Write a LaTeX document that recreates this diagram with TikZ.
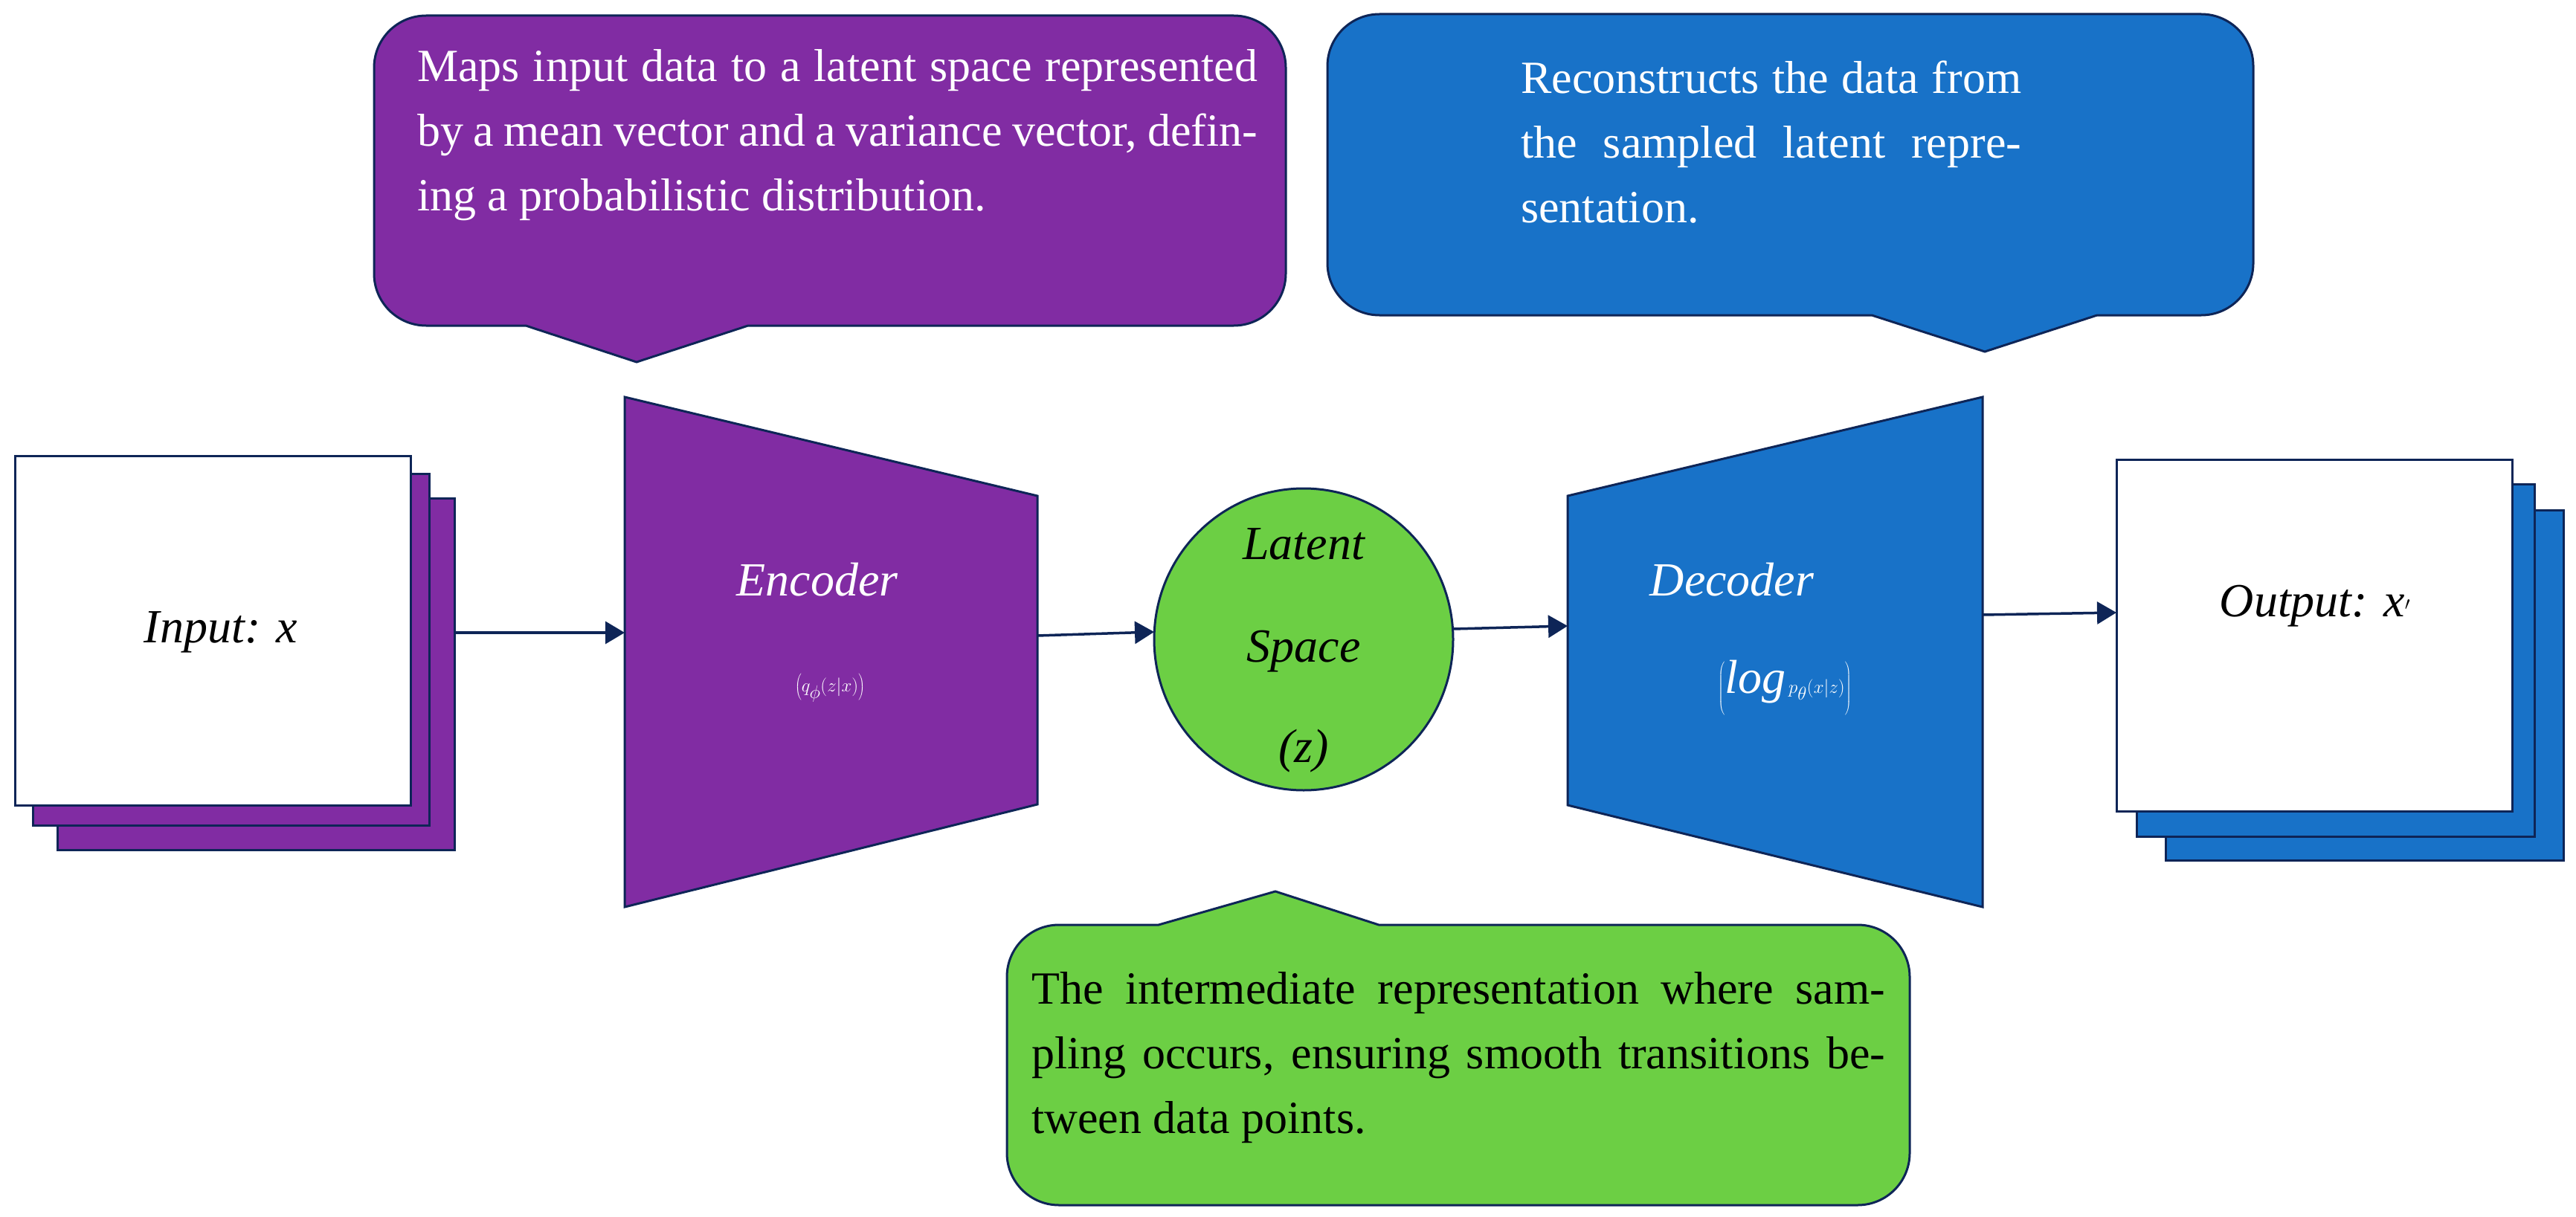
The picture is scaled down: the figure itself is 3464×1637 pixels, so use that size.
\documentclass[tikz,border=0pt]{standalone}
\usepackage{fontspec}
\setmainfont{Liberation Serif}
\usetikzlibrary{arrows.meta}
\definecolor{purp}{HTML}{812CA3}
\definecolor{blu}{HTML}{1872C8}
\definecolor{grn}{HTML}{6CCF44}
\definecolor{nav}{HTML}{0E2557}
\begin{document}
\begin{tikzpicture}[x=1pt,y=-1pt,
  edge/.style={line width=3pt,draw=nav},
  conn/.style={line width=3.5pt,draw=nav,-{Triangle[length=26pt,width=30pt]}},
  bubtxt/.style={anchor=north west,inner sep=0pt,align=justify,font=\fontsize{62}{87}\selectfont},
  lbl/.style={inner sep=0pt,font=\fontsize{64}{70}\selectfont\itshape}]
\useasboundingbox (0,0) rectangle (3464,1637);
% input stack
\filldraw[edge,fill=purp] (77,670) rectangle (611,1143);
\filldraw[edge,fill=purp] (44,637) rectangle (577,1110);
\filldraw[edge,fill=white] (20,613) rectangle (552,1083);
\node[lbl] (in) at (297,850) {Input: x};
\coordinate (inR) at (611,851);
% encoder
\filldraw[edge,fill=purp] (840,534) -- (1395,667) -- (1395,1082) -- (840,1220) -- cycle;
\coordinate (encL) at (840,851);
\coordinate (encR) at (1395,855);
\node[lbl,text=white] (enc) at (1099,780) {Encoder};
\node[lbl,text=white,font=\fontsize{64}{70}\selectfont] (encf) at (1116,925) {$\left(q_{\phi}(z|x)\right)$};
% latent
\filldraw[edge,fill=grn] (1753,860) ellipse [x radius=201,y radius=203];
\coordinate (latL) at (1552,850);
\coordinate (latR) at (1954,846);
\node[lbl,anchor=base] (l1) at (1753,752) {Latent};
\node[lbl,anchor=base] (l2) at (1753,890) {Space};
\node[lbl,anchor=base] (l3) at (1753,1025) {(z)};
% decoder
\filldraw[edge,fill=blu] (2108,667) -- (2666,534) -- (2666,1220) -- (2108,1083) -- cycle;
\coordinate (decL) at (2108,842);
\coordinate (decR) at (2666,827);
\node[lbl,text=white] (dec) at (2329,780) {Decoder};
\node[lbl,text=white,font=\fontsize{64}{70}\selectfont] (decf) at (2400,925) {$\left(\mathit{log}\,p_{\theta}(x|z)\right)$};
% output stack
\filldraw[edge,fill=blu] (2912,686) rectangle (3447,1157);
\filldraw[edge,fill=blu] (2873,651) rectangle (3408,1125);
\filldraw[edge,fill=white] (2846,618) rectangle (3378,1091);
\node[lbl] (out) at (3113,815) {Output: x$^{\prime}$};
\coordinate (outL) at (2846,824);
% connectors
\draw[conn] (inR) -- (encL);
\draw[conn] (encR) -- (latL);
\draw[conn] (latR) -- (decL);
\draw[conn] (decR) -- (outL);
% purple callout
\filldraw[edge,fill=purp] (707,438) [rounded corners=70pt] -- (503,438) -- (503,21) -- (1729,21) -- (1729,438) [sharp corners] -- (1006,438) -- (856,487) -- cycle;
\node[bubtxt,text=white,text width=1130pt] (t1) at (561,66) {Maps input data to a latent space represented by a mean vector and a variance vector, defining a probabilistic distribution.};
% blue callout
\filldraw[edge,fill=blu] (2517,424) [rounded corners=70pt] -- (1785,424) -- (1785,19) -- (3030,19) -- (3030,424) [sharp corners] -- (2820,424) -- (2669,473) -- cycle;
\node[bubtxt,text=white,text width=673pt] (t2) at (2045,82) {Reconstructs the data from the sampled latent representation.};
% green callout
\filldraw[edge,fill=grn] (1854,1244) [rounded corners=70pt] -- (2568,1244) -- (2568,1621) -- (1354,1621) -- (1354,1244) [sharp corners] -- (1558,1244) -- (1715,1199) -- cycle;
\node[bubtxt,text=black,text width=1148pt] (t3) at (1387,1307) {The intermediate representation where sampling occurs, ensuring smooth transitions between data points.};
\end{tikzpicture}
\end{document}
